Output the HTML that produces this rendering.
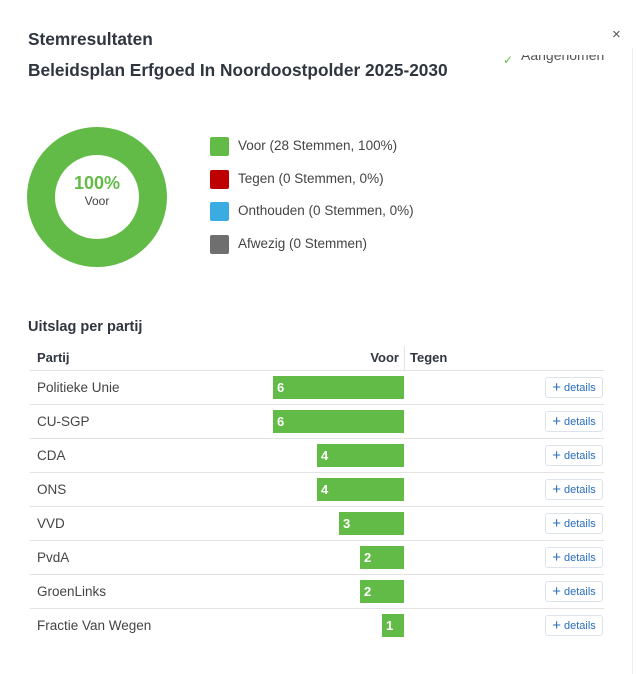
<!DOCTYPE html>
<html><head><meta charset="utf-8"><style>
*{margin:0;padding:0;box-sizing:border-box}
body{width:636px;height:674px;background:#fff;font-family:"Liberation Sans",sans-serif;color:#333;position:relative;overflow:hidden}
.a{position:absolute;white-space:nowrap}
.h{font-weight:bold;color:#2f3640}
.sq{position:absolute;left:210px;width:19px;height:19px;border-radius:2px}
.lt{left:238px;font-size:13.5px;color:#444}
.line{position:absolute;left:30px;width:574px;height:1px;background:#e3e3e3}
.bar{position:absolute;height:23px;background:#62bb46;color:#fff;font-weight:bold;font-size:13px;line-height:23px;padding-left:4px}
.pn{left:37px;font-size:13.5px;color:#444}
.btn{position:absolute;left:545px;width:58px;height:21px;border:1px solid #dde3ea;border-radius:3px;font-size:11px;color:#2a6ebb;line-height:19px;text-align:center}
.btn b{font-size:15px;font-weight:normal;margin-right:3px;vertical-align:-1px}
</style></head><body>
<div class="a h" style="left:28px;top:29px;font-size:17.3px">Stemresultaten</div>
<div class="a h" style="left:28px;top:60px;font-size:17.3px">Beleidsplan Erfgoed In Noordoostpolder 2025-2030</div>
<div class="a" style="left:612px;top:26px;font-size:15px;color:#555">×</div>
<div class="a" style="left:503px;top:53px;font-size:12px;color:#62bb46">✓</div>
<div class="a" style="left:521px;top:55px;height:12px;width:90px;overflow:hidden"><div style="position:absolute;top:-8px;left:0;font-size:14px;color:#555;white-space:nowrap">Aangenomen</div></div>
<div class="a" style="left:632px;top:48px;width:1px;height:626px;background:#eee"></div>
<svg class="a" style="left:27px;top:127px" width="140" height="140"><circle cx="70" cy="70" r="56" fill="none" stroke="#62bb46" stroke-width="28"/></svg>
<div class="a" style="left:47px;top:173px;width:100px;text-align:center;font-size:18px;font-weight:bold;color:#62bb46">100%</div>
<div class="a" style="left:47px;top:194px;width:100px;text-align:center;font-size:12px;color:#444">Voor</div>
<div class="sq" style="top:137px;background:#62bb46"></div><div class="a lt" style="top:138px">Voor (28 Stemmen, 100%)</div>
<div class="sq" style="top:170px;background:#bf0000"></div><div class="a lt" style="top:171px">Tegen (0 Stemmen, 0%)</div>
<div class="sq" style="top:202px;background:#3aace2"></div><div class="a lt" style="top:203px">Onthouden (0 Stemmen, 0%)</div>
<div class="sq" style="top:235px;background:#6f6f6f"></div><div class="a lt" style="top:236px">Afwezig (0 Stemmen)</div>
<div class="a h" style="left:28px;top:319px;font-size:14.5px">Uitslag per partij</div>
<div class="a h" style="left:37px;top:350px;font-size:13px">Partij</div>
<div class="a h" style="left:300px;width:99px;text-align:right;top:350px;font-size:13px">Voor</div>
<div class="a" style="left:404px;top:346px;width:1px;height:24px;background:#e3e3e3"></div>
<div class="a h" style="left:410px;top:350px;font-size:13px">Tegen</div>
<div class="line" style="top:370px"></div>
<div class="a pn" style="top:380px">Politieke Unie</div><div class="bar" style="top:376px;left:273px;width:131px">6</div><div class="btn" style="top:377px"><b>+</b>details</div><div class="line" style="top:404px"></div>
<div class="a pn" style="top:414px">CU-SGP</div><div class="bar" style="top:410px;left:273px;width:131px">6</div><div class="btn" style="top:411px"><b>+</b>details</div><div class="line" style="top:438px"></div>
<div class="a pn" style="top:448px">CDA</div><div class="bar" style="top:444px;left:317px;width:87px">4</div><div class="btn" style="top:445px"><b>+</b>details</div><div class="line" style="top:472px"></div>
<div class="a pn" style="top:482px">ONS</div><div class="bar" style="top:478px;left:317px;width:87px">4</div><div class="btn" style="top:479px"><b>+</b>details</div><div class="line" style="top:506px"></div>
<div class="a pn" style="top:516px">VVD</div><div class="bar" style="top:512px;left:339px;width:65px">3</div><div class="btn" style="top:513px"><b>+</b>details</div><div class="line" style="top:540px"></div>
<div class="a pn" style="top:550px">PvdA</div><div class="bar" style="top:546px;left:360px;width:44px">2</div><div class="btn" style="top:547px"><b>+</b>details</div><div class="line" style="top:574px"></div>
<div class="a pn" style="top:584px">GroenLinks</div><div class="bar" style="top:580px;left:360px;width:44px">2</div><div class="btn" style="top:581px"><b>+</b>details</div><div class="line" style="top:608px"></div>
<div class="a pn" style="top:618px">Fractie Van Wegen</div><div class="bar" style="top:614px;left:382px;width:22px">1</div><div class="btn" style="top:615px"><b>+</b>details</div>
</body></html>
